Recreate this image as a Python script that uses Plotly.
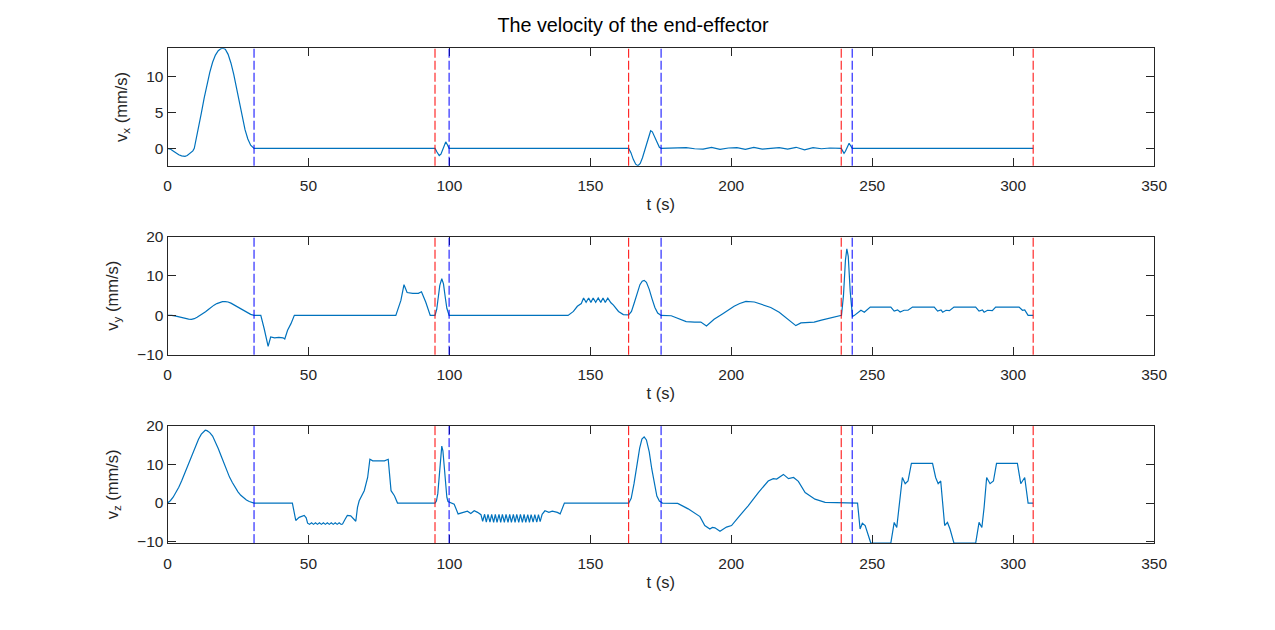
import plotly.graph_objects as go
from plotly.subplots import make_subplots

# time marks of the dashed lines (s)
t_start = [94.9, 163.6, 239.0, 307.1]   # red
t_end = [30.7, 99.9, 175.1, 242.9]      # blue

# v_x
t_x = [0, 1, 2, 3, 4, 5, 6.2, 7, 8, 9, 9.5, 10, 11, 12, 13, 14, 15, 16, 17, 18, 19, 19.7,
       20.5, 21.5, 22.5, 23.5, 24.5, 25.5, 26.5, 27.5, 28.5, 29.5, 30.7,
       94.9, 95.6, 96.4, 97.0, 97.6, 98.2, 98.7, 99.3, 99.9,
       163.6, 164.4, 165.2, 166.1, 166.9, 167.7, 168.5, 169.3, 170.1, 170.8, 171.4, 172.0, 172.8, 173.8, 174.5, 175.1,
       178, 181, 184, 187, 190, 193, 196, 199, 202, 205, 208, 211, 214, 217, 220, 223, 226, 229, 232, 235, 239.0,
       239.5, 240.0, 240.5, 241.0, 241.4, 241.8, 242.3, 242.9, 307.1]
v_x = [0, -0.1, -0.35, -0.65, -0.9, -1.05, -1.1, -1.0, -0.7, -0.35, 0, 0.9, 2.8, 4.9, 7.0, 8.9, 10.6, 12.0, 13.0, 13.6, 13.9, 13.95,
       13.8, 13.1, 11.9, 10.3, 8.4, 6.4, 4.2, 2.6, 1.3, 0.45, 0,
       0, -0.5, -1.0, -0.8, -0.2, 0.5, 0.9, 0.5, 0,
       0, -0.6, -1.5, -2.2, -2.42, -2.1, -1.3, -0.3, 0.9, 1.9, 2.45, 2.3, 1.6, 0.6, 0.15, 0,
       0.05, 0.0, 0.1, -0.05, -0.1, 0.15, -0.15, 0.05, 0.1, -0.15, 0.15, -0.1, 0.05, 0.1, -0.1, 0.15, -0.2, 0.1, -0.05, 0.05, 0,
       -0.4, -0.7, -0.4, 0.0, 0.4, 0.7, 0.4, 0, 0]

# v_y
t_y = [0, 1.5, 3, 4.5, 6, 7.5, 8.5, 9.5, 10.5, 11.5, 12.5, 13.5, 14.5, 15.5, 16.5, 17.5, 18.5, 19.5, 20.5,
       21.5, 22.5, 23.5, 24.5, 25.5, 26.5, 27.5, 28.5, 29.5, 30.7,
       33.1, 34.3, 35.2, 35.7, 36.6, 38, 39.5, 41.0, 41.6, 42.6, 43.8, 45.0,
       81.0, 82.8, 83.9, 85.0, 87, 89, 90.1, 91.6, 93.2, 94.9, 95.5, 96.0, 96.6, 97.3, 97.9, 98.5, 99.1, 99.9,
       142.1, 144.0, 145.4, 146.8, 147.6, 148.5, 149.4, 150.2, 151.0, 151.9, 152.8, 153.7, 154.5, 155.3, 156.2,
       157.3, 158.2, 160.0, 161.7, 163.6,
       164.6, 165.6, 166.6, 167.6, 168.4, 169.1, 169.9, 170.9, 171.9, 172.9, 173.9, 175.1,
       178.7, 181, 184, 187, 189.2, 191.2, 193.9, 197, 201, 203, 205.2, 208.2, 211, 214,
       217, 220, 222.9, 224.7, 227, 229.4, 232, 235.3, 239.1,
       239.8, 240.5, 241.0, 241.5, 242.2, 243.0, 243.7, 246.0, 247.2, 249.3,
       256.6, 257.8, 259.0, 259.9, 261.3, 262.7, 264.3,
       272.0, 273.2, 274.4, 275.0, 276.2, 277.4, 279.0,
       286.7, 287.9, 289.1, 289.7, 290.9, 292.6, 293.8,
       302.1, 303.3, 304.1, 305.3, 307.1]
v_y = [0, 0, -0.2, -0.5, -0.8, -0.95, -1.0, -0.85, -0.5, -0.1, 0.4, 0.9, 1.5, 2.1, 2.6, 3.0, 3.3, 3.5, 3.5,
       3.4, 3.1, 2.7, 2.3, 1.9, 1.4, 1.0, 0.6, 0.25, 0,
       0, -3.4, -6.3, -7.9, -5.5, -5.7, -5.6, -5.7, -6.0, -3.8, -2.1, 0,
       0, 3.8, 7.8, 5.8, 5.6, 5.6, 6.0, 3.4, 0, 0, 1.5, 4.2, 7.6, 9.3, 8.0, 4.8, 1.8, 0,
       0, 1.0, 2.3, 3.0, 4.4, 3.3, 4.4, 3.3, 4.4, 3.3, 4.4, 3.3, 4.4, 3.3, 4.4,
       3.2, 2.6, 1.0, 0.2, 0.1,
       1.0, 3.2, 5.8, 7.8, 8.7, 8.9, 8.4, 6.6, 4.2, 2.0, 0.6, 0,
       -0.1, -0.8, -1.6, -1.7, -1.7, -2.7, -1.0, 0.4, 2.3, 3.0, 3.55, 3.4, 2.8, 2.0,
       0.8, -0.9, -2.6, -1.9, -1.8, -1.7, -1.2, -0.6, 0,
       5.0, 14.0, 16.9, 15.0, 6.0, -0.3, 0, 1.3, 0.8, 2.1,
       2.1, 1.1, 1.4, 0.85, 1.3, 1.3, 2.1,
       2.1, 1.1, 1.4, 0.8, 1.3, 1.2, 2.1,
       2.1, 1.1, 1.4, 0.8, 1.3, 1.2, 2.1,
       2.1, 1.3, 1.4, 0, 0]

# v_z
t_z = [0, 1, 2, 3, 4, 5, 6, 7, 8, 9, 10, 11, 12, 13, 13.4, 14, 15, 16, 17, 18, 19, 20,
       21, 22, 23, 24, 25, 26, 27, 28, 29, 30, 30.7,
       44.3, 45.5, 46.7, 48.5, 49.2, 49.7,
       50.4, 51.1, 51.8, 52.5, 53.2, 53.9, 54.6, 55.3, 56.0, 56.7, 57.4, 58.1, 58.8, 59.5, 60.2, 60.9, 61.6,
       62.1, 63.0, 63.8, 65.0, 65.6, 66.8, 67.4, 68.0, 69.8, 71.0, 71.8, 72.8, 75, 77, 78.3, 79.3, 80.5, 81.6,
       94.9, 95.4, 95.9, 96.4, 96.9, 97.3, 97.7, 98.1, 98.6, 99.1, 99.5,
       101.7, 103.1, 104.6, 105.5, 106.4, 107.6, 108.8, 110.0,
       111.2, 111.8, 112.5, 113.1, 113.7, 114.4, 115.0, 115.7, 116.3, 116.9, 117.6, 118.2, 118.8, 119.5,
       120.1, 120.8, 121.4, 122.0, 122.7, 123.3, 123.9, 124.6, 125.2, 125.9, 126.5, 127.1, 127.8, 128.4,
       129.0, 129.7, 130.3, 131.0, 131.6, 132.2, 132.9,
       133.9, 135.3, 136.5, 138.3, 139.3, 140.8,
       163.6, 164.5, 165.5, 166.5, 167.5, 168.3, 169.1, 169.9, 170.9, 171.8, 172.7, 173.6, 174.5, 175.6,
       181, 184.7, 188.9, 190.6, 192.4, 193.3,
       194.2, 196.0, 198.3, 200.1, 202.5, 206, 209.6, 213.1, 214.9, 216.1, 218.5, 220.3, 222.1, 223.8,
       226.2, 229.7, 233.3,
       244.8, 245.7, 246.5, 247.5, 249.5, 256.6, 257.8, 258.7, 259.5, 260.7, 261.7, 262.7, 263.9,
       271.4, 272.5, 273.4, 274.3, 275.7, 276.7, 277.6, 279.0,
       286.7, 287.9, 288.9, 289.7, 290.6, 291.8, 293.0, 294.1,
       301.5, 302.7, 304.1, 305.3, 307.1]
v_z = [0, 0.6, 1.5, 2.7, 4.1, 5.7, 7.5, 9.3, 11.2, 13.1, 14.9, 16.5, 17.8, 18.6, 18.8, 18.7, 18.2, 17.3, 15.9, 14.1, 12.2, 10.2,
       8.4, 6.7, 5.3, 4.0, 2.9, 2.0, 1.3, 0.8, 0.4, 0.15, 0,
       0, -4.5, -3.7, -3.2, -3.8, -5.2,
       -5.5, -5.1, -5.5, -5.1, -5.5, -5.1, -5.5, -5.1, -5.5, -5.1, -5.5, -5.1, -5.5, -5.1, -5.5, -5.1, -5.5,
       -5.4, -4.2, -3.2, -3.3, -3.7, -4.7, -1.1, 0.6, 3.2, 6.6, 11.3, 10.9, 10.9, 10.9, 11.3, 3.2, 1.9, 0,
       0, 0.5, 2.5, 6.5, 11.5, 14.7, 13.5, 9.5, 4.5, 1.5, 0.4,
       -0.3, -2.8, -2.4, -2.3, -2.1, -2.7, -2.0, -2.4,
       -3.0, -4.7, -2.9, -4.9, -2.9, -4.9, -2.9, -5.0, -2.9, -5.0, -2.9, -5.0, -2.9, -5.0,
       -2.9, -5.0, -2.9, -5.0, -2.9, -5.0, -2.9, -5.0, -2.9, -5.0, -2.9, -5.0, -3.0, -5.0,
       -3.0, -4.9, -3.0, -4.9, -3.0, -4.8, -2.9,
       -2.0, -2.4, -2.1, -2.4, -2.8, 0,
       0, 1.2, 5.0, 10.0, 14.2, 16.5, 17.1, 16.3, 13.2, 8.8, 4.8, 1.8, 0.5, 0,
       -0.1, -1.5, -3.5, -5.8, -6.7, -6.3,
       -6.4, -7.3, -6.2, -5.8, -3.7, -0.7, 2.7, 5.7, 6.3, 6.2, 7.4, 6.3, 6.6, 5.6,
       2.7, 1.0, 0.2,
       0, -6.7, -5.2, -5.8, -10.33, -10.33, -5.0, -6.3, -1.1, 6.6, 5.0, 5.7, 10.26,
       10.26, 6.6, 5.0, 5.7, -5.8, -5.0, -6.7, -10.33,
       -10.33, -5.0, -6.3, -1.1, 6.6, 5.0, 5.7, 10.26,
       10.26, 5.0, 6.6, 0, 0]

y_ranges = [[-2.42, 13.95], [-10, 20], [-10.35, 20]]
y_ticks = [[0, 5, 10], [-10, 0, 10, 20], [-10, 0, 10, 20]]
y_titles = ["v<sub>x</sub> (mm/s)", "v<sub>y</sub> (mm/s)", "v<sub>z</sub> (mm/s)"]

W, H = 1275, 630
# axes boxes (screen px) and the plot area the page actually gives
boxes = [(47.3, 165.0), (236.0, 354.3), (425.3, 543.0)]
x_left, x_right = 166.7, 1153.3
area_x0, area_w = 3.2, 1258.0
area_y0, area_h = 8.0, 614.0

ink = "#262626"
fnt = "Liberation Sans, Arial, sans-serif"

fig = make_subplots(rows=3, cols=1)

for i, (tt, vv) in enumerate([(t_x, v_x), (t_y, v_y), (t_z, v_z)]):
    fig.add_trace(go.Scatter(x=tt, y=vv, mode="lines",
                             line=dict(color="#0072BD", width=1.2),
                             showlegend=False, hoverinfo="skip"),
                  row=i + 1, col=1)
    for t in t_start:
        fig.add_vline(x=t, line=dict(color="#FF0000", width=1, dash="9px,3px"), row=i + 1, col=1)
    for t in t_end:
        fig.add_vline(x=t, line=dict(color="#0000FF", width=1, dash="9px,3px"), row=i + 1, col=1)

for i in range(3):
    top, bot = boxes[i]
    fig.update_xaxes(domain=[(x_left - area_x0) / area_w, (x_right - area_x0) / area_w], range=[0, 350],
                     tickvals=[0, 50, 100, 150, 200, 250, 300, 350],
                     ticks="inside", ticklen=8, tickcolor=ink, tickwidth=1,
                     ticklabelstandoff=6,
                     showline=True, linecolor=ink, linewidth=1, mirror="ticks",
                     showgrid=False, zeroline=False,
                     tickfont=dict(family=fnt, size=15.5, color=ink),
                     title=dict(text="t (s)", font=dict(family=fnt, size=16.5, color=ink), standoff=5),
                     row=i + 1, col=1)
    fig.update_yaxes(domain=[1 - (bot - area_y0) / area_h, 1 - (top - area_y0) / area_h], range=y_ranges[i],
                     tickvals=y_ticks[i],
                     ticks="inside", ticklen=8, tickcolor=ink, tickwidth=1,
                     showline=True, linecolor=ink, linewidth=1, mirror="ticks",
                     showgrid=False, zeroline=False,
                     tickfont=dict(family=fnt, size=15.5, color=ink),
                     title=dict(text=y_titles[i], font=dict(family=fnt, size=16.5, color=ink), standoff=14),
                     row=i + 1, col=1)

fig.update_layout(width=W, height=H,
                  margin=dict(l=0, r=0, t=0, b=0),
                  paper_bgcolor="white", plot_bgcolor="white",
                  title=dict(text="The velocity of the end-effector", x=0.5, xref="paper",
                             y=1 - 25 / H, yanchor="middle", xanchor="center",
                             font=dict(family=fnt, size=19.8, color="#000000")))

# no page margin, so the figure sits exactly in the window
fig.write_html("out.html", config={"displayModeBar": False},
               post_script="document.body.style.margin = '0';")
